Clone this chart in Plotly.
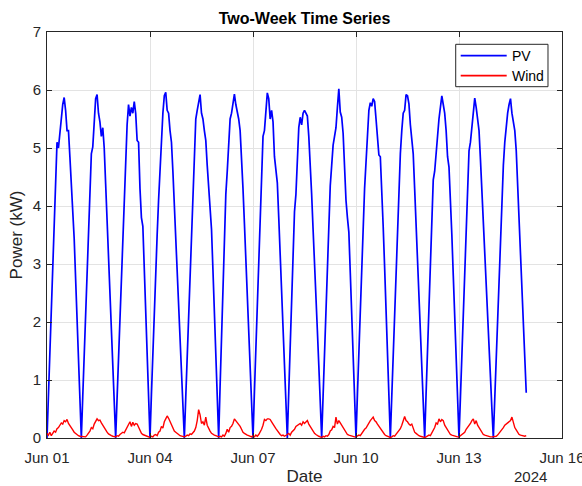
import pandas as pd
import plotly.graph_objects as go

start_date = "2024-06-01 00:00"

# Hourly PV power (kW), one list per day (00:00 ... 23:00)
pv_jun01 = [0, 0.76, 1.51, 2.26, 3.0, 3.77, 4.41, 5.1, 5.0, 5.3, 5.6, 5.75, 5.87, 5.65, 5.3, 5.3, 4.85, 4.4, 4.0, 3.44, 2.75, 2.06, 1.37, 0.68]
pv_jun02 = [0, 0.72, 1.44, 2.16, 2.88, 3.6, 4.3, 4.9, 5.02, 5.4, 5.85, 5.92, 5.6, 5.45, 5.2, 5.35, 5.0, 4.38, 3.75, 3.12, 2.49, 1.86, 1.22, 0.59]
pv_jun03 = [0, 0.7, 1.4, 2.1, 2.8, 3.6, 4.3, 4.9, 5.4, 5.75, 5.55, 5.7, 5.6, 5.8, 5.6, 5.13, 5.1, 4.3, 3.8, 3.65, 2.95, 2.2, 1.5, 0.75]
pv_jun04 = [0, 0.75, 1.5, 2.2, 2.9, 3.5, 4.1, 4.6, 5.3, 5.6, 5.9, 5.96, 5.65, 5.6, 5.3, 5.1, 4.6, 4.0, 3.4, 2.85, 2.3, 1.7, 1.15, 0.57]
pv_jun05 = [0, 0.7, 1.4, 2.1, 2.8, 3.5, 4.2, 4.9, 5.5, 5.65, 5.8, 5.92, 5.6, 5.5, 5.3, 5.13, 4.7, 4.3, 4.0, 3.6, 2.9, 2.2, 1.45, 0.72]
pv_jun06 = [0, 0.9, 1.8, 2.7, 3.6, 4.2, 4.6, 5.0, 5.5, 5.6, 5.75, 5.93, 5.75, 5.65, 5.5, 5.3, 4.85, 4.3, 3.7, 3.1, 2.5, 1.9, 1.25, 0.6]
pv_jun07 = [0, 0.8, 1.6, 2.4, 3.2, 3.9, 4.5, 5.2, 5.3, 5.6, 5.95, 5.85, 5.5, 5.65, 5.45, 4.85, 4.6, 4.4, 3.8, 3.2, 2.55, 1.9, 1.25, 0.63]
pv_jun08 = [0, 0.8, 1.6, 2.4, 3.2, 3.9, 4.2, 4.8, 5.35, 5.53, 5.4, 5.6, 5.65, 5.6, 5.55, 5.2, 4.8, 4.2, 3.6, 3.1, 2.5, 1.85, 1.25, 0.62]
pv_jun09 = [0, 0.73, 1.46, 2.2, 2.9, 3.65, 4.35, 4.7, 5.05, 5.2, 5.35, 5.7, 6.02, 5.62, 5.53, 5.25, 4.6, 4.1, 3.8, 3.55, 2.85, 2.15, 1.45, 0.7]
pv_jun10 = [0, 0.75, 1.5, 2.25, 3.0, 3.75, 4.3, 4.75, 5.3, 5.65, 5.78, 5.72, 5.85, 5.8, 5.5, 5.1, 4.88, 4.85, 4.35, 3.65, 2.95, 2.2, 1.5, 0.75]
pv_jun11 = [0, 0.71, 1.43, 2.14, 2.85, 3.6, 4.3, 4.9, 5.3, 5.6, 5.65, 5.92, 5.9, 5.76, 5.4, 5.1, 4.9, 4.3, 3.65, 3.0, 2.4, 1.75, 1.15, 0.55]
pv_jun12 = [0, 0.77, 1.55, 2.3, 3.1, 3.85, 4.45, 4.6, 4.95, 5.3, 5.5, 5.7, 5.9, 5.75, 5.6, 5.3, 4.85, 4.67, 4.2, 3.5, 2.8, 2.1, 1.4, 0.7]
pv_jun13 = [0, 0.7, 1.4, 2.1, 2.8, 3.5, 4.5, 4.95, 5.1, 5.4, 5.65, 5.86, 5.7, 5.5, 5.3, 4.8, 4.3, 3.75, 3.2, 2.7, 2.15, 1.6, 1.05, 0.5]
pv_jun14 = [0, 0.68, 1.36, 2.04, 2.72, 3.4, 4.1, 4.7, 5.1, 5.4, 5.6, 5.75, 5.85, 5.6, 5.45, 5.3, 4.96, 4.4, 3.8, 3.2, 2.6, 2.0, 1.4, 0.78]

# Hourly wind power (kW), one list per day
wind_jun01 = [0.08, 0.05, 0.10, 0.04, 0.08, 0.12, 0.10, 0.16, 0.18, 0.22, 0.26, 0.24, 0.30, 0.28, 0.32, 0.25, 0.22, 0.18, 0.14, 0.10, 0.08, 0.05, 0.04, 0.03]
wind_jun02 = [0.03, 0.02, 0.03, 0.02, 0.05, 0.08, 0.12, 0.18, 0.16, 0.24, 0.28, 0.33, 0.30, 0.31, 0.26, 0.22, 0.18, 0.12, 0.10, 0.07, 0.05, 0.04, 0.03, 0.02]
wind_jun03 = [0.02, 0.04, 0.03, 0.06, 0.08, 0.10, 0.09, 0.14, 0.18, 0.24, 0.28, 0.20, 0.27, 0.22, 0.25, 0.24, 0.18, 0.12, 0.08, 0.06, 0.05, 0.04, 0.03, 0.02]
wind_jun04 = [0.01, 0.03, 0.02, 0.05, 0.06, 0.04, 0.10, 0.12, 0.20, 0.17, 0.28, 0.33, 0.38, 0.34, 0.28, 0.22, 0.18, 0.12, 0.10, 0.07, 0.06, 0.04, 0.03, 0.02]
wind_jun05 = [0.02, 0.03, 0.05, 0.04, 0.07, 0.06, 0.09, 0.12, 0.18, 0.30, 0.49, 0.40, 0.25, 0.28, 0.22, 0.36, 0.22, 0.16, 0.12, 0.08, 0.06, 0.05, 0.04, 0.03]
wind_jun06 = [0.02, 0.03, 0.02, 0.05, 0.03, 0.08, 0.15, 0.10, 0.18, 0.20, 0.25, 0.33, 0.30, 0.26, 0.22, 0.20, 0.15, 0.10, 0.08, 0.06, 0.05, 0.04, 0.03, 0.02]
wind_jun07 = [0.04, 0.02, 0.05, 0.03, 0.06, 0.10, 0.15, 0.22, 0.32, 0.30, 0.33, 0.33, 0.32, 0.28, 0.25, 0.20, 0.16, 0.12, 0.10, 0.06, 0.04, 0.05, 0.03, 0.04]
wind_jun08 = [0.06, 0.08, 0.05, 0.10, 0.12, 0.15, 0.20, 0.22, 0.24, 0.25, 0.22, 0.28, 0.25, 0.27, 0.30, 0.24, 0.20, 0.14, 0.10, 0.08, 0.06, 0.04, 0.03, 0.02]
wind_jun09 = [0.01, 0.03, 0.02, 0.04, 0.03, 0.06, 0.12, 0.14, 0.20, 0.18, 0.36, 0.24, 0.30, 0.26, 0.22, 0.16, 0.12, 0.08, 0.06, 0.05, 0.04, 0.03, 0.02, 0.02]
wind_jun10 = [0.02, 0.03, 0.05, 0.04, 0.08, 0.10, 0.15, 0.17, 0.22, 0.25, 0.30, 0.33, 0.36, 0.30, 0.28, 0.24, 0.20, 0.16, 0.12, 0.08, 0.06, 0.04, 0.03, 0.02]
wind_jun11 = [0.01, 0.02, 0.04, 0.03, 0.06, 0.10, 0.12, 0.16, 0.22, 0.30, 0.37, 0.30, 0.28, 0.24, 0.22, 0.24, 0.16, 0.10, 0.08, 0.05, 0.04, 0.03, 0.02, 0.02]
wind_jun12 = [0.01, 0.02, 0.03, 0.05, 0.04, 0.08, 0.14, 0.18, 0.26, 0.24, 0.33, 0.28, 0.32, 0.30, 0.22, 0.18, 0.12, 0.08, 0.06, 0.05, 0.04, 0.03, 0.02, 0.02]
wind_jun13 = [0.02, 0.04, 0.06, 0.08, 0.10, 0.15, 0.18, 0.22, 0.25, 0.30, 0.33, 0.24, 0.30, 0.22, 0.18, 0.12, 0.08, 0.06, 0.05, 0.04, 0.03, 0.03, 0.02, 0.02]
wind_jun14 = [0.02, 0.02, 0.03, 0.05, 0.08, 0.10, 0.14, 0.18, 0.22, 0.24, 0.26, 0.28, 0.30, 0.36, 0.24, 0.18, 0.14, 0.10, 0.06, 0.05, 0.04, 0.04, 0.03, 0.04]

tick_dates = ["2024-06-01", "2024-06-04", "2024-06-07", "2024-06-10", "2024-06-13", "2024-06-16"]
tick_labels = ["Jun 01", "Jun 04", "Jun 07", "Jun 10", "Jun 13", "Jun 16"]
y_ticks = [0, 1, 2, 3, 4, 5, 6, 7]
series_names = ["PV", "Wind"]
series_colors = ["#0000ff", "#ff0000"]

pv_days = [pv_jun01, pv_jun02, pv_jun03, pv_jun04, pv_jun05, pv_jun06, pv_jun07,
           pv_jun08, pv_jun09, pv_jun10, pv_jun11, pv_jun12, pv_jun13, pv_jun14]
wind_days = [wind_jun01, wind_jun02, wind_jun03, wind_jun04, wind_jun05, wind_jun06, wind_jun07,
             wind_jun08, wind_jun09, wind_jun10, wind_jun11, wind_jun12, wind_jun13, wind_jun14]

pv = [v for d in pv_days for v in d]
wind = [v for d in wind_days for v in d]
times = pd.date_range(start_date, periods=len(pv), freq="h")

FONT = "Liberation Sans, Arial, Helvetica, sans-serif"
AX = "#262626"

fig = go.Figure()
fig.add_trace(go.Scatter(x=times, y=pv, mode="lines", name=series_names[0],
                         line=dict(color=series_colors[0], width=1.7)))
fig.add_trace(go.Scatter(x=times, y=wind, mode="lines", name=series_names[1],
                         line=dict(color=series_colors[1], width=1.4)))

# Legend box (MATLAB-style, compact), placed in paper coordinates
lg_x0, lg_x1, lg_y0, lg_y1 = 0.7936, 0.9728, 0.8653, 0.9697
row_y = [0.9416, 0.8924]
shapes = [dict(type="rect", xref="paper", yref="paper", x0=lg_x0, x1=lg_x1, y0=lg_y0, y1=lg_y1,
               line=dict(color=AX, width=1), fillcolor="white", layer="above")]
annotations = []
for name, col, ry in zip(series_names, series_colors, row_y):
    shapes.append(dict(type="line", xref="paper", yref="paper", x0=0.8033, x1=0.8926, y0=ry, y1=ry,
                       line=dict(color=col, width=1.7), layer="above"))
    annotations.append(dict(text=name, xref="paper", yref="paper", x=0.899, y=ry,
                            xanchor="left", yanchor="middle", showarrow=False,
                            font=dict(size=14, color="black")))
annotations.append(dict(text="2024", xref="paper", yref="paper", x=0.975, y=-0.095,
                        xanchor="right", yanchor="middle", showarrow=False,
                        font=dict(size=15, color=AX)))

fig.update_layout(
    width=582, height=486,
    margin=dict(l=47, r=20, t=32, b=48),
    paper_bgcolor="white", plot_bgcolor="white",
    font=dict(family=FONT, size=15, color=AX),
    title=dict(text="<b>Two-Week Time Series</b>", x=0.5, xref="paper", xanchor="center",
               y=1 - 18 / 486, yanchor="middle", font=dict(size=16, color="black")),
    showlegend=False,
    shapes=shapes,
    annotations=annotations,
    xaxis=dict(
        range=["2024-06-01", "2024-06-16"], tickvals=tick_dates, ticktext=tick_labels,
        showline=True, linecolor=AX, linewidth=1, mirror="ticks",
        ticks="inside", ticklen=5, tickcolor=AX, automargin=False,
        showgrid=True, gridcolor="#e3e3e3", gridwidth=1, zeroline=False,
        ticklabelstandoff=6, ticklabeloverflow="allow",
        title=dict(text="Date", font=dict(size=17, color=AX), standoff=9),
        tickfont=dict(size=15, color=AX),
    ),
    yaxis=dict(
        range=[0, 7], tickvals=y_ticks,
        showline=True, linecolor=AX, linewidth=1, mirror="ticks",
        ticks="inside", ticklen=5, tickcolor=AX, automargin=False,
        showgrid=True, gridcolor="#e3e3e3", gridwidth=1, zeroline=False,
        ticklabelstandoff=2,
        title=dict(text="Power (kW)", font=dict(size=17, color=AX), standoff=5),
        tickfont=dict(size=15, color=AX),
    ),
)

fig.write_html("out.html")
